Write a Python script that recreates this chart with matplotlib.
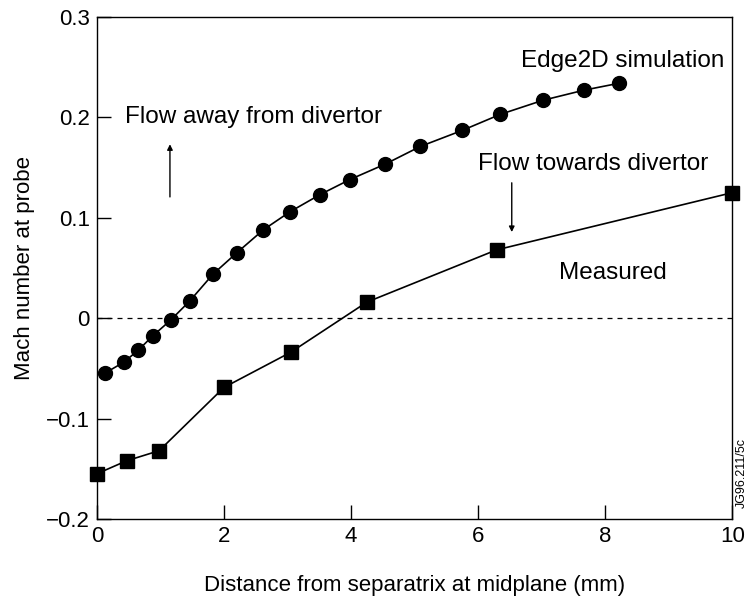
import matplotlib
matplotlib.use("Agg")
import matplotlib.pyplot as plt

plt.rcParams['font.family'] = ['Liberation Sans', 'DejaVu Sans']

# Edge2D simulation (circles)
sim_x = [0.12, 0.42, 0.65, 0.88, 1.16, 1.46, 1.83, 2.20, 2.62, 3.04, 3.51, 3.98,
         4.54, 5.09, 5.75, 6.35, 7.02, 7.66, 8.22]
sim_y = [-0.055, -0.044, -0.032, -0.0176, -0.002, 0.017, 0.044, 0.065, 0.088, 0.106,
         0.123, 0.138, 0.1535, 0.171, 0.187, 0.203, 0.217, 0.227, 0.234]

# Measured (squares)
meas_x = [0.0, 0.47, 0.98, 2.0, 3.05, 4.25, 6.29, 10.0]
meas_y = [-0.155, -0.142, -0.132, -0.069, -0.034, 0.016, 0.068, 0.125]

xticks = [0, 2, 4, 6, 8, 10]
yticks = [-0.2, -0.1, 0, 0.1, 0.2, 0.3]
ytick_labels = ['\u22120.2', '\u22120.1', '0', '0.1', '0.2', '0.3']

fig = plt.figure(figsize=(7.51, 6.06), dpi=100)
ax = fig.add_axes([0.129, 0.1436, 0.846, 0.8284])

ax.axhline(0, color='black', lw=0.9, ls=(0, (4, 4)), zorder=1)
ax.plot(sim_x, sim_y, '-o', color='black', lw=1.2, ms=10, zorder=3, clip_on=False)
ax.plot(meas_x, meas_y, '-s', color='black', lw=1.2, ms=10.5, zorder=3, clip_on=False)

ax.set_xlim(0, 10)
ax.set_ylim(-0.2, 0.3)
ax.set_xticks(xticks)
ax.set_xticklabels([str(t) for t in xticks])
ax.set_yticks(yticks)
ax.set_yticklabels(ytick_labels)
ax.tick_params(direction='in', length=10, width=1.0, labelsize=16, pad=5)
for s in ax.spines.values():
    s.set_linewidth(1.0)

ax.set_xlabel('Distance from separatrix at midplane (mm)', fontsize=16, labelpad=20)
ax.set_ylabel('Mach number at probe', fontsize=16, labelpad=8)

ax.text(9.87, 0.256, 'Edge2D simulation', fontsize=17.5, ha='right', va='center')
ax.text(0.44, 0.200, 'Flow away from divertor', fontsize=17.5, ha='left', va='center')
ax.text(6.0, 0.154, 'Flow towards divertor', fontsize=17.5, ha='left', va='center')
ax.text(7.28, 0.045, 'Measured', fontsize=17.5, ha='left', va='center')

ax.annotate('', xy=(1.15, 0.176), xytext=(1.15, 0.118),
            arrowprops=dict(arrowstyle='-|>', color='black', lw=1.0,
                            mutation_scale=8))
ax.annotate('', xy=(6.53, 0.083), xytext=(6.53, 0.1376),
            arrowprops=dict(arrowstyle='-|>', color='black', lw=1.0,
                            mutation_scale=8))

fig.text(0.988, 0.22, 'JG96.211/5c', rotation=90, fontsize=9, ha='center', va='center')

fig.savefig('out.png', dpi=100)
